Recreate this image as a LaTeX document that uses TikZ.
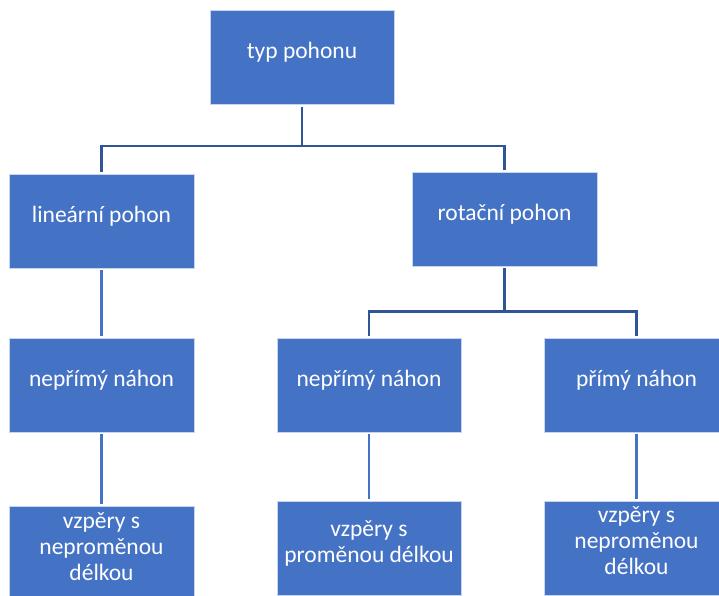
\documentclass[tikz,border=0pt]{standalone}
\usepackage{fontspec}
\setmainfont{Carlito}
\usetikzlibrary{positioning,calc}
\definecolor{boxblue}{HTML}{4472C4}
\definecolor{linkdark}{HTML}{2F5597}
\definecolor{linklight}{HTML}{4472C4}
\tikzset{
  box/.style={draw=white!70!boxblue,line width=0.8pt,fill=boxblue,text=white,align=center,
    font=\fontsize{23.5}{26}\selectfont,minimum width=185pt,minimum height=94pt,inner sep=0pt},
  onebox/.style={box,text height=17pt,text depth=15pt},
  link/.style={draw=linkdark,line width=2.6pt,shorten <=2pt,shorten >=2pt},
  linklt/.style={link,draw=linklight},
}
\begin{document}
\begin{tikzpicture}[x=1pt,y=-1pt]
  \clip (0,0) rectangle (719,595);
  % levels
  \node[onebox,minimum width=184pt] (typ) at (302,57.5) {typ pohonu};
  \node[onebox] (lin) at (101.5,221) {lineární pohon};
  \node[onebox] (rot) at (504.5,219) {rotační pohon};
  \node[onebox] (nlin) at (101.5,385) {nepřímý náhon};
  \node[onebox,minimum width=184pt] (nrot) at (369,385) {nepřímý náhon};
  \node[onebox] (prim) at (636.5,385) {přímý náhon};
  \node[box,text height=71pt,text depth=17pt] (vlin) at (101.5,553) {vzpěry s\\neproměnou\\délkou};
  \node[box,minimum width=184pt,text height=45pt,text depth=17pt] (vrot) at (369,548) {vzpěry s\\proměnou délkou};
  \node[box,text height=69pt,text depth=17pt] (vprim) at (636.5,548) {vzpěry s\\neproměnou\\délkou};
  % connectors
  \draw[link] (typ.south) -- ++(0,41) -| (lin.north);
  \draw[link] (typ.south) -- ++(0,41) -| (rot.north);
  \draw[link] (rot.south) -- ++(0,45) -| (nrot.north);
  \draw[link] (rot.south) -- ++(0,45) -| (prim.north);
  \draw[linklt] (lin) -- (nlin);
  \draw[linklt] (nlin) -- (vlin);
  \draw[linklt] (nrot) -- (vrot);
  \draw[linklt] (prim) -- (vprim);
\end{tikzpicture}
\end{document}
